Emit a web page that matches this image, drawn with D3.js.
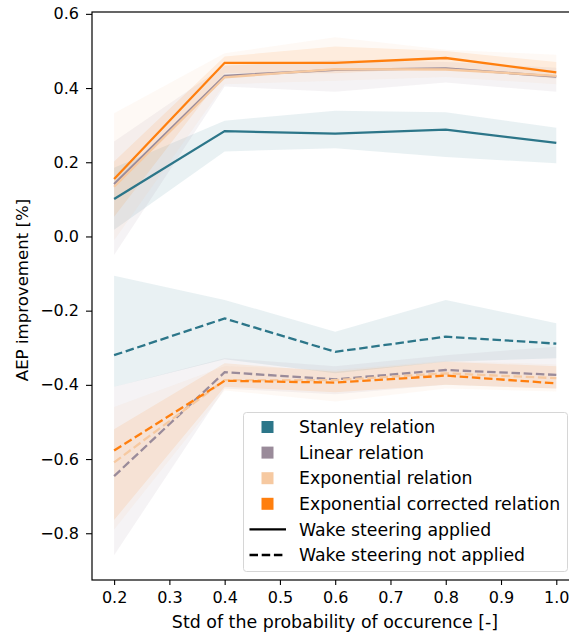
<!DOCTYPE html>
<html>
<head>
<meta charset="utf-8">
<script src="https://cdn.jsdelivr.net/npm/d3@7"></script>
<style>
  html, body { margin: 0; padding: 0; background: #fff; }
  svg { display: block; font-family: "DejaVu Sans", sans-serif; }
</style>
</head>
<body>
<svg id="chart" width="569" height="635"></svg>
<script>
// x positions: std of the probability of occurrence
const stdValues = [0.2, 0.4, 0.6, 0.8, 1.0];

// Series names and colours
const relationNames = ["Stanley relation", "Linear relation", "Exponential relation", "Exponential corrected relation"];
const relationColors = ["#2c7689", "#9a8b9a", "#f6c9a1", "#ff7f0e"];

// Wake steering applied: mean AEP improvement [%]
const stanleyOn  = [0.101, 0.284, 0.277, 0.288, 0.252];
const linearOn   = [0.141, 0.433, 0.449, 0.453, 0.431];
const expOn      = [0.134, 0.429, 0.451, 0.450, 0.433];
const expCorrOn  = [0.155, 0.468, 0.468, 0.481, 0.442];

// Wake steering applied: spread band (lower / upper)
const stanleyOnLo = [0.018, 0.229, 0.238, 0.214, 0.197];
const stanleyOnHi = [0.185, 0.312, 0.339, 0.335, 0.293];
const linearOnLo  = [-0.050, 0.404, 0.390, 0.415, 0.390];
const linearOnHi  = [0.256, 0.460, 0.475, 0.470, 0.455];
const expOnLo     = [-0.010, 0.410, 0.420, 0.430, 0.410];
const expOnHi     = [0.332, 0.494, 0.537, 0.503, 0.490];
const expCorrOnLo = [0.053, 0.440, 0.440, 0.455, 0.425];
const expCorrOnHi = [0.202, 0.485, 0.512, 0.500, 0.470];

// Wake steering not applied: mean AEP improvement [%]
const stanleyOff = [-0.320, -0.221, -0.311, -0.270, -0.289];
const linearOff  = [-0.646, -0.366, -0.385, -0.360, -0.373];
const expOff     = [-0.609, -0.387, -0.387, -0.369, -0.382];
const expCorrOff = [-0.577, -0.389, -0.394, -0.375, -0.396];

// Wake steering not applied: spread band (lower / upper)
const stanleyOffLo = [-0.405, -0.331, -0.369, -0.338, -0.328];
const stanleyOffHi = [-0.106, -0.171, -0.257, -0.171, -0.234];
const linearOffLo  = [-0.859, -0.410, -0.425, -0.400, -0.410];
const linearOffHi  = [-0.405, -0.328, -0.350, -0.320, -0.297];
const expOffLo     = [-0.790, -0.415, -0.445, -0.410, -0.418];
const expOffHi     = [-0.460, -0.350, -0.360, -0.335, -0.345];
const expCorrOffLo = [-0.764, -0.405, -0.420, -0.400, -0.410];
const expCorrOffHi = [-0.520, -0.342, -0.365, -0.338, -0.350];

// Tick values
const xTickValues = [0.2, 0.3, 0.4, 0.5, 0.6, 0.7, 0.8, 0.9, 1.0];
const yTickValues = [-0.8, -0.6, -0.4, -0.2, 0.0, 0.2, 0.4, 0.6];

const applied = [
  { mean: stanleyOn, lo: stanleyOnLo, hi: stanleyOnHi },
  { mean: linearOn,  lo: linearOnLo,  hi: linearOnHi },
  { mean: expOn,     lo: expOnLo,     hi: expOnHi },
  { mean: expCorrOn, lo: expCorrOnLo, hi: expCorrOnHi }
];
const notApplied = [
  { mean: stanleyOff, lo: stanleyOffLo, hi: stanleyOffHi },
  { mean: linearOff,  lo: linearOffLo,  hi: linearOffHi },
  { mean: expOff,     lo: expOffLo,     hi: expOffHi },
  { mean: expCorrOff, lo: expCorrOffLo, hi: expCorrOffHi }
];

const svg = d3.select("#chart");
const plot = { left: 92, top: 12, right: 578.4, bottom: 580 };

const x = d3.scaleLinear().domain([0.16, 1.04]).range([plot.left, plot.right]);
const y = d3.scaleLinear().domain([-0.926, 0.605]).range([plot.bottom, plot.top]);

const LW = 2.3;
const DASH = "8.5,3.7";

const g = svg.append("g");

const area = d3.area()
  .x((d, i) => x(stdValues[i]))
  .y0(d => y(d[0]))
  .y1(d => y(d[1]));
const line = d3.line()
  .x((d, i) => x(stdValues[i]))
  .y(d => y(d));

// Spread bands
[applied, notApplied].forEach(group => {
  group.forEach((s, k) => {
    g.append("path")
      .attr("d", area(s.lo.map((v, i) => [v, s.hi[i]])))
      .attr("fill", relationColors[k])
      .attr("fill-opacity", 0.1)
      .attr("stroke", "none");
  });
});

// Mean lines
applied.forEach((s, k) => {
  g.append("path")
    .attr("d", line(s.mean))
    .attr("fill", "none")
    .attr("stroke", relationColors[k])
    .attr("stroke-width", LW);
});
notApplied.forEach((s, k) => {
  g.append("path")
    .attr("d", line(s.mean))
    .attr("fill", "none")
    .attr("stroke", relationColors[k])
    .attr("stroke-width", LW)
    .attr("stroke-dasharray", DASH);
});

// Axes
const fmtX = d3.format(".1f");
const fmtY = v => d3.format(".1f")(v).replace("-", "\u2212");

const xAxis = svg.append("g")
  .attr("transform", `translate(0,${plot.bottom})`)
  .call(d3.axisBottom(x).tickValues(xTickValues).tickFormat(fmtX).tickSize(5).tickPadding(7));
const yAxis = svg.append("g")
  .attr("transform", `translate(${plot.left},0)`)
  .call(d3.axisLeft(y).tickValues(yTickValues).tickFormat(fmtY).tickSize(6).tickPadding(7));

[xAxis, yAxis].forEach(a => {
  a.select(".domain").remove();
  a.selectAll(".tick line").attr("stroke", "#000").attr("stroke-width", 1.1);
  a.selectAll(".tick text").attr("fill", "#000").style("font-size", "16px").style("font-family", "DejaVu Sans");
});

// Spines
svg.append("rect")
  .attr("x", plot.left).attr("y", plot.top)
  .attr("width", plot.right - plot.left).attr("height", plot.bottom - plot.top)
  .attr("fill", "none").attr("stroke", "#000").attr("stroke-width", 1.2);

// Axis titles
svg.append("text")
  .attr("x", 335)
  .attr("y", 628)
  .attr("text-anchor", "middle")
  .style("font-size", "17.4px")
  .text("Std of the probability of occurence [-]");

svg.append("text")
  .attr("transform", "translate(28,290) rotate(-90)")
  .attr("text-anchor", "middle")
  .style("font-size", "16.6px")
  .text("AEP improvement [%]");

// Legend
const legend = svg.append("g");
legend.append("rect")
  .attr("x", 243.5).attr("y", 412.5)
  .attr("width", 324).attr("height", 159)
  .attr("rx", 3)
  .attr("fill", "#fff").attr("fill-opacity", 0.8)
  .attr("stroke", "#d6d6d6").attr("stroke-width", 1);

const rowY = i => 427 + i * 25.6;
relationNames.forEach((name, i) => {
  legend.append("rect")
    .attr("x", 261.5).attr("y", rowY(i) - 6)
    .attr("width", 12).attr("height", 12)
    .attr("fill", relationColors[i]);
  legend.append("text")
    .attr("x", 299).attr("y", rowY(i))
    .attr("dy", "0.36em")
    .style("font-size", "17.3px")
    .text(name);
});
const styleRows = [
  { name: "Wake steering applied", dash: null },
  { name: "Wake steering not applied", dash: DASH }
];
styleRows.forEach((r, j) => {
  const i = relationNames.length + j;
  const ln = legend.append("line")
    .attr("x1", 249.5).attr("x2", 286)
    .attr("y1", rowY(i)).attr("y2", rowY(i))
    .attr("stroke", "#000").attr("stroke-width", LW);
  if (r.dash) ln.attr("stroke-dasharray", r.dash);
  legend.append("text")
    .attr("x", 299).attr("y", rowY(i))
    .attr("dy", "0.36em")
    .style("font-size", "17.3px")
    .text(r.name);
});
</script>
</body>
</html>
